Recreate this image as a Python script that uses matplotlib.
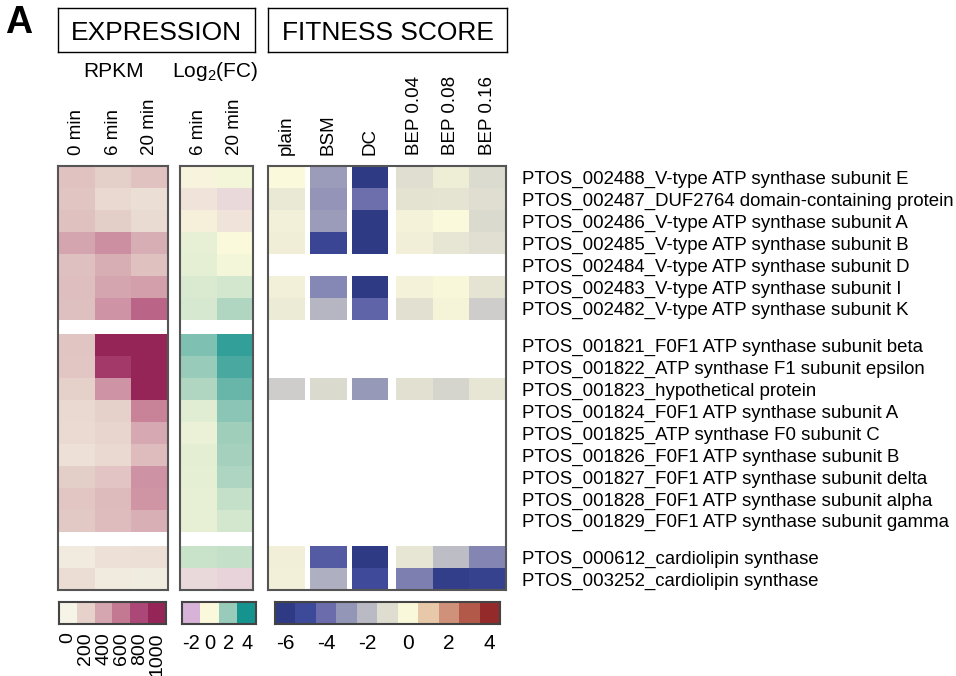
import numpy as np
import matplotlib.pyplot as plt
from matplotlib.colors import LinearSegmentedColormap

plt.rcParams['font.family'] = ['Liberation Sans', 'DejaVu Sans']
plt.rcParams['mathtext.fontset'] = 'custom'
plt.rcParams['mathtext.rm'] = 'Liberation Sans'
plt.rcParams['mathtext.it'] = 'Liberation Sans:italic'

nan = np.nan

# ---- data ----
genes = [
    'PTOS_002488_V-type ATP synthase subunit E',
    'PTOS_002487_DUF2764 domain-containing protein',
    'PTOS_002486_V-type ATP synthase subunit A',
    'PTOS_002485_V-type ATP synthase subunit B',
    'PTOS_002484_V-type ATP synthase subunit D',
    'PTOS_002483_V-type ATP synthase subunit I',
    'PTOS_002482_V-type ATP synthase subunit K',
    'PTOS_001821_F0F1 ATP synthase subunit beta',
    'PTOS_001822_ATP synthase F1 subunit epsilon',
    'PTOS_001823_hypothetical protein',
    'PTOS_001824_F0F1 ATP synthase subunit A',
    'PTOS_001825_ATP synthase F0 subunit C',
    'PTOS_001826_F0F1 ATP synthase subunit B',
    'PTOS_001827_F0F1 ATP synthase subunit delta',
    'PTOS_001828_F0F1 ATP synthase subunit alpha',
    'PTOS_001829_F0F1 ATP synthase subunit gamma',
    'PTOS_000612_cardiolipin synthase',
    'PTOS_003252_cardiolipin synthase',
]
groups = [7, 9, 2]

rpkm_labels = ['0 min', '6 min', '20 min']
rpkm_0 = [270, 260, 280, 410, 285, 290, 285, 260, 255, 210, 160, 155, 110, 220, 255, 245, 60, 135]
rpkm_6 = [215, 160, 220, 505, 365, 410, 480, 1000, 885, 480, 210, 180, 160, 265, 310, 300, 110, 55]
rpkm_20 = [270, 130, 150, 365, 280, 430, 680, 1000, 1000, 1000, 555, 390, 300, 490, 475, 360, 120, 50]

lfc_labels = ['6 min', '20 min']
lfc_6 = [-0.15, -0.6, -0.25, 0.4, 0.45, 0.65, 0.75, 2.4, 2.0, 1.5, 0.55, 0.35, 0.5, 0.45, 0.4, 0.4, 1.0, -0.9]
lfc_20 = [0.15, -0.9, -0.6, 0.0, 0.15, 0.8, 1.5, 3.55, 3.2, 2.75, 2.2, 1.85, 1.75, 1.55, 1.1, 0.8, 1.1, -1.1]

fit_labels = ['plain', 'BSM', 'DC', 'BEP 0.04', 'BEP 0.08', 'BEP 0.16']
fit_plain = [0.0, -0.6, -0.3, -0.4, nan, -0.3, -0.5, nan, nan, -1.45, nan, nan, nan, nan, nan, nan, -0.35, -0.3]
fit_bsm = [-2.85, -3.05, -2.85, -5.25, nan, -3.35, -2.1, nan, nan, -1.1, nan, nan, nan, nan, nan, nan, -4.5, -2.3]
fit_dc = [-6.0, -3.95, -6.0, -6.0, nan, -6.0, -4.25, nan, nan, -2.95, nan, nan, nan, nan, nan, nan, -6.0, -4.95]
fit_bep04 = [-1.0, -0.8, -0.25, -0.35, nan, -0.25, -0.9, nan, nan, -0.9, nan, nan, nan, nan, nan, nan, -0.7, -3.55]
fit_bep08 = [-0.45, -0.75, 0.0, -0.7, nan, -0.1, -0.2, nan, nan, -1.2, nan, nan, nan, nan, nan, nan, -1.9, -5.7]
fit_bep16 = [-1.05, -1.0, -1.1, -0.95, nan, -0.75, -1.45, nan, nan, -0.7, nan, nan, nan, nan, nan, nan, -3.4, -5.5]

rpkm_ticks = [0, 200, 400, 600, 800, 1000]
lfc_ticks = [-2, 0, 2, 4]
fit_ticks = [-6, -5, -4, -3, -2, -1, 0, 1, 2, 3, 4]

rpkm_colors = ['#F5F4E6', '#E6D2CB', '#D5A6B0', '#C47993', '#AC4877', '#962557']
lfc_colors = ['#D7B4D7', '#FBF9DC', '#98CBB9', '#15938F']
fit_colors = ['#2F3A84', '#3E4A9A', '#6B6CAC', '#9597B8', '#BABAC4', '#DEDDD0',
              '#FBF9DB', '#E8CAAA', '#CF917A', '#B45A4B', '#952A2B']

# ---- layout helpers ----
W, H = 956, 676
GAP = 0.65


def rect(x0, y0, x1, y1):
    return [x0 / W, 1 - y1 / H, (x1 - x0) / W, (y1 - y0) / H]


def row_tops(groups):
    tops = []
    y = 0.0
    for n in groups:
        for i in range(n):
            tops.append(y)
            y += 1
        y += GAP
    return np.array(tops), y - GAP


tops, total = row_tops(groups)


def frame(ax, color='#555555', lw=1.5):
    for s in ax.spines.values():
        s.set_color(color)
        s.set_linewidth(lw)


def heat_block(ax, columns, lefts, labels, colors, vmin, vmax):
    cmap = LinearSegmentedColormap.from_list('c', colors)
    start = 0
    for n in groups:
        sl = slice(start, start + n)
        yedges = np.append(tops[sl], tops[start + n - 1] + 1)
        for col, x0 in zip(columns, lefts):
            vals = np.asarray(col, dtype=float)[sl][:, None]
            ax.pcolormesh([x0, x0 + 1], yedges, np.ma.masked_invalid(vals), cmap=cmap,
                          vmin=vmin, vmax=vmax, edgecolors='none', antialiased=False)
        start += n
    ax.set_xlim(0, lefts[-1] + 1)
    ax.set_ylim(total, 0)
    ax.xaxis.tick_top()
    ax.set_xticks([x + 0.5 for x in lefts])
    ax.set_xticklabels(labels, rotation=90, fontsize=13.5)
    ax.tick_params(axis='x', length=0, pad=8)
    ax.set_yticks([])
    frame(ax)
    return cmap


def color_bar(ax, ticks, colors, labels, rotation=0, fontsize=14, pad=7):
    cmap = LinearSegmentedColormap.from_list('c', colors)
    ax.imshow(np.array([ticks], dtype=float), cmap=cmap, vmin=ticks[0], vmax=ticks[-1],
              aspect='auto', interpolation='nearest')
    ax.set_yticks([])
    ax.set_xticks(range(len(ticks)))
    ax.set_xticklabels(labels, rotation=rotation, fontsize=fontsize)
    ax.tick_params(axis='x', length=0, pad=pad)
    frame(ax, '#444444', 1.5)


fig = plt.figure(figsize=(W / 100, H / 100), dpi=100)

ax_r = fig.add_axes(rect(58, 166, 168, 590))
heat_block(ax_r, [rpkm_0, rpkm_6, rpkm_20], [0, 1, 2], rpkm_labels, rpkm_colors, 0, 1000)

ax_l = fig.add_axes(rect(180, 166, 253, 590))
heat_block(ax_l, [lfc_6, lfc_20], [0, 1], lfc_labels, lfc_colors, -2, 4)

ax_f = fig.add_axes(rect(268, 166, 506, 590))
heat_block(ax_f, [fit_plain, fit_bsm, fit_dc, fit_bep04, fit_bep08, fit_bep16],
           [0, 1.14, 2.28, 3.48, 4.48, 5.48], fit_labels, fit_colors, -6, 4)
ax_f.yaxis.tick_right()
ax_f.set_yticks(tops + 0.5)
ax_f.set_yticklabels(genes, fontsize=13.4)
ax_f.tick_params(axis='y', length=0, pad=11.5)

# colour keys
ax_c1 = fig.add_axes(rect(59, 602, 166, 624))
color_bar(ax_c1, rpkm_ticks, rpkm_colors, [str(t) for t in rpkm_ticks], rotation=90,
          fontsize=14, pad=6)
ax_c2 = fig.add_axes(rect(182, 602, 256, 624))
color_bar(ax_c2, lfc_ticks, lfc_colors, [str(t) for t in lfc_ticks], fontsize=14.5)
ax_c3 = fig.add_axes(rect(275, 602, 500, 624))
color_bar(ax_c3, fit_ticks, fit_colors,
          [str(t) if t % 2 == 0 else '' for t in fit_ticks], fontsize=15)

# header boxes
for (x0, x1), title in [((58, 255), 'EXPRESSION'), ((268, 507), 'FITNESS SCORE')]:
    axt = fig.add_axes(rect(x0, 8, x1, 52))
    axt.set_xticks([])
    axt.set_yticks([])
    frame(axt, 'black', 1.0)
    axt.text(0.5, 0.27, title, ha='center', va='baseline', fontsize=19, transform=axt.transAxes)

fig.text(114 / W, 1 - 77 / H, 'RPKM', ha='center', va='baseline', fontsize=15)
fig.text(215 / W, 1 - 77 / H, 'Log$_2$(FC)', ha='center', va='baseline', fontsize=15)
fig.text(5 / W, 1 - 33 / H, 'A', ha='left', va='baseline', fontsize=27, fontweight='bold')

fig.savefig('out.png', dpi=100)
